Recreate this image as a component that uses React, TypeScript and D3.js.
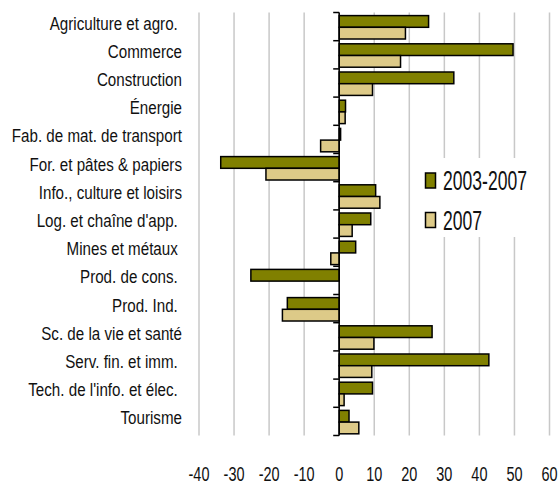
import React from "react";
import * as d3 from "d3";

const categories = [
  "Agriculture et agro. ",
  "Commerce",
  "Construction",
  "Énergie",
  "Fab. de mat. de transport",
  "For. et pâtes & papiers",
  "Info., culture et loisirs",
  "Log. et chaîne d'app. ",
  "Mines et métaux ",
  "Prod. de cons. ",
  "Prod. Ind. ",
  "Sc. de la vie et santé",
  "Serv. fin. et imm. ",
  "Tech. de l'info. et élec. ",
  "Tourisme",
];
const series2003_2007 = [25.5, 49.6, 32.7, 1.8, 0.4, -33.8, 10.4, 9.0, 4.7, -25.2, -14.8, 26.5, 42.7, 9.5, 2.8];
const series2007 = [18.9, 17.5, 9.5, 1.7, -5.3, -20.9, 11.6, 3.7, -2.4, 0, -16.2, 9.9, 9.3, 1.4, 5.6];
const seriesNames = ["2003-2007", "2007"];
const tickValues = [-40, -30, -20, -10, 0, 10, 20, 30, 40, 50, 60];

const colors = ["#808000", "#DDCA88"];
const FONT = "'Liberation Sans', Arial, sans-serif";

function NarrowText(props: {
  x: number; y: number; sx: number; size: number; anchor?: string; children: React.ReactNode;
}) {
  return (
    <text
      transform={`translate(${props.x},${props.y}) scale(${props.sx},1)`}
      textAnchor={props.anchor || "start"}
      fontFamily={FONT}
      fontSize={props.size}
      fill="#111"
      style={{ whiteSpace: "pre" }}
    >
      {props.children}
    </text>
  );
}

export default function App() {
  const W = 560, H = 484;
  const top = 12.5, bottom = 435.5;
  const x = d3.scaleLinear().domain([-40, 60]).range([199, 549.5]);
  const y = d3.scaleBand<string>().domain(categories).range([top, bottom]).paddingInner(0).paddingOuter(0);
  const bw = y.bandwidth();
  const barH = bw * 0.415;
  const off = bw * 0.11;
  const all = [series2003_2007, series2007];

  return (
    <svg width={W} height={H} style={{ position: "absolute", left: 0, top: 0, background: "#fff" }}>
      <rect x={0} y={0} width={W} height={H} fill="#fff" />
      {tickValues.map((t) => (
        <line key={"g" + t} x1={x(t)} x2={x(t)} y1={top} y2={bottom} stroke="#c8c8c8" strokeWidth={1.5} />
      ))}
      <rect x={412} y={158} width={135} height={79} fill="#fff" />
      {all.map((vals, si) =>
        vals.map((v, i) => {
          const c = categories[i];
          const y0 = (y(c) as number) + off + si * barH;
          return (
            <rect
              key={si + "-" + i}
              x={Math.min(x(0), x(v))}
              y={y0}
              width={Math.abs(x(v) - x(0))}
              height={barH}
              fill={colors[si]}
              stroke="#000"
              strokeWidth={1.5}
            />
          );
        })
      )}
      <line x1={x(0)} x2={x(0)} y1={top} y2={bottom} stroke="#000" strokeWidth={1.5} />
      {[...categories.map((c) => y(c) as number), bottom].map((yy, i) => (
        <line key={"t" + i} x1={x(0) - 6} x2={x(0)} y1={yy} y2={yy} stroke="#000" strokeWidth={1.5} />
      ))}
      {categories.map((c) => (
        <NarrowText key={"l" + c} x={182} y={(y(c) as number) + bw / 2 + 3} sx={0.82} size={18.5} anchor="end">
          {c}
        </NarrowText>
      ))}
      {tickValues.map((t) => (
        <NarrowText key={"x" + t} x={x(t)} y={480.5} sx={0.69} size={21} anchor="middle">
          {t}
        </NarrowText>
      ))}
      {seriesNames.map((n, i) => (
        <g key={n} transform={`translate(425.5, ${173 + i * 39.5})`}>
          <rect x={0} y={0} width={10} height={15} fill={colors[i]} stroke="#000" strokeWidth={1.5} />
          <NarrowText x={17.5} y={17.3} sx={0.65} size={27}>
            {n}
          </NarrowText>
        </g>
      ))}
    </svg>
  );
}
